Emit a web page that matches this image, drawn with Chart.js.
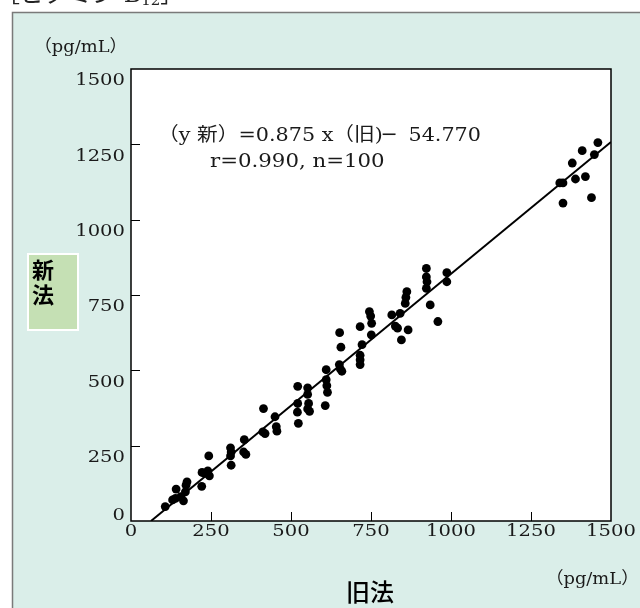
<!DOCTYPE html>
<html><head><meta charset="utf-8">
<script src="https://cdn.jsdelivr.net/npm/chart.js@4"></script>
<style>html,body{margin:0;padding:0;background:#fff}canvas{display:block}</style>
</head><body>
<canvas id="c" width="640" height="608"></canvas>
<script>
// 旧法 (old method) values, pg/mL
const oldMethod = [107,130,139,141,156,164,170,175,172,221,222,231,240,245,243,311,313,311,313,354,352,359,
  414,412,419,450,454,456,521,521,520,523,552,552,555,552,558,610,610,612,614,607,
  652,656,651,654,659,716,722,716,716,716,745,749,752,751,
  815,826,833,841,862,859,857,866,845,923,923,925,923,987,987,935,959,
  1459,1410,1448,1379,1340,1350,1389,1420,1350,1439];
// 新法 (new method) values, pg/mL
const newMethod = [48,70,75,106,81,67,97,130,119,115,161,158,166,150,216,243,229,216,185,270,229,221,
  373,296,290,346,313,298,447,390,361,324,442,420,390,372,364,502,469,449,427,383,
  625,577,519,505,497,645,585,550,535,519,695,680,656,618,
  684,647,640,689,761,742,722,634,601,838,810,794,772,824,794,717,662,
  1256,1229,1216,1188,1122,1122,1135,1143,1055,1073];
const xTickValues = [0,250,500,750,1000,1250,1500];
const yTickValues = [0,250,500,750,1000,1250,1500];
const fitSlope = 0.875;
const fitIntercept = -54.770;
const fitXRange = [-fitIntercept / fitSlope, 1500];

const points = oldMethod.map((x, i) => ({x: x, y: newMethod[i]}));
const fitLine = fitXRange.map(x => ({x: x, y: fitSlope * x + fitIntercept}));

const SERIF = "'DejaVu Serif','Liberation Serif','Noto Sans CJK JP',serif";
const CJK = "'Noto Sans CJK JP','Noto Sans',sans-serif";

// draw horizontally stretched text
function sText(ctx, text, x, y, align, sx) {
  const w = ctx.measureText(text).width * sx;
  let left = x;
  if (align === 'right') left = x - w;
  else if (align === 'center') left = x - w / 2;
  ctx.save();
  ctx.textAlign = 'left';
  ctx.translate(left, y);
  ctx.scale(sx, 1);
  ctx.fillText(text, 0, 0);
  ctx.restore();
}

const decor = {
  id: 'decor',
  beforeDraw(chart) {
    const ctx = chart.ctx, a = chart.chartArea;
    ctx.save();
    ctx.fillStyle = '#ffffff';
    ctx.fillRect(0, 0, chart.width, chart.height);
    // outer panel
    ctx.fillStyle = '#daeee9';
    ctx.fillRect(12, 12, 700, 700);
    ctx.strokeStyle = '#7a7a7a';
    ctx.lineWidth = 1.5;
    ctx.strokeRect(12.5, 12.5, 700, 700);
    // plot area
    ctx.fillStyle = '#ffffff';
    ctx.fillRect(a.left, a.top, a.right - a.left, a.bottom - a.top);
    // header (cut off at top)
    ctx.fillStyle = '#222';
    ctx.font = '24px ' + SERIF;
    ctx.textBaseline = 'alphabetic';
    ctx.textAlign = 'left';
    ctx.fillText('［ビタミン B', -4, 2);
    const w = ctx.measureText('［ビタミン B').width;
    ctx.font = '15px ' + SERIF;
    ctx.fillText('12', -4 + w, 5);
    const w2 = ctx.measureText('12').width;
    ctx.font = '24px ' + SERIF;
    ctx.fillText('］', -4 + w + w2, 2);
    ctx.restore();
  },
  afterDraw(chart) {
    const ctx = chart.ctx, a = chart.chartArea;
    const xs = chart.scales.x, ys = chart.scales.y;
    ctx.save();
    // plot border
    ctx.strokeStyle = '#000';
    ctx.lineWidth = 1.5;
    ctx.strokeRect(a.left, a.top, a.right - a.left, a.bottom - a.top);
    // inward ticks
    ctx.lineWidth = 1;
    ctx.beginPath();
    yTickValues.forEach(v => {
      if (v === 0 || v === 1500) return;
      const p = Math.round(ys.getPixelForValue(v)) + 0.5;
      ctx.moveTo(a.left, p); ctx.lineTo(a.left + 9, p);
    });
    xTickValues.forEach(v => {
      if (v === 0 || v === 1500) return;
      const p = Math.round(xs.getPixelForValue(v)) + 0.5;
      ctx.moveTo(p, a.bottom); ctx.lineTo(p, a.bottom - 9);
    });
    ctx.stroke();
    // tick labels
    ctx.fillStyle = '#1a1a1a';
    ctx.font = '17px ' + SERIF;
    ctx.textBaseline = 'middle';
    yTickValues.forEach(v => {
      const p = ys.getPixelForValue(v);
      sText(ctx, String(v), a.left - 6, v === 0 ? p - 5 : p + 12, 'right', 1.15);
    });
    xTickValues.forEach(v => {
      const p = xs.getPixelForValue(v);
      sText(ctx, String(v), p, a.bottom + 11, 'center', 1.15);
    });
    // units
    sText(ctx, '（pg/mL）', 34, 48, 'left', 1.05);
    sText(ctx, '（pg/mL）', 639, 580, 'right', 1.05);
    // y axis title box
    ctx.fillStyle = '#c5e0b4';
    ctx.fillRect(28, 254, 50, 76);
    ctx.strokeStyle = '#ffffff';
    ctx.lineWidth = 2;
    ctx.strokeRect(28, 254, 50, 76);
    ctx.fillStyle = '#000';
    ctx.font = 'bold 22px ' + CJK;
    ctx.textAlign = 'left';
    ctx.fillText('新', 32, 270);
    ctx.fillText('法', 32, 295);
    // x axis title
    ctx.font = '500 24px ' + CJK;
    ctx.textAlign = 'center';
    ctx.fillText('旧法', 370, 592);
    // equation
    ctx.fillStyle = '#1a1a1a';
    ctx.font = '19px ' + SERIF;
    sText(ctx, '（y 新）=0.875 x（旧)─  54.770', 158, 136, 'left', 1.09);
    sText(ctx, 'r=0.990, n=100', 210, 162, 'left', 1.12);
    ctx.restore();
  }
};

new Chart(document.getElementById('c'), {
  type: 'scatter',
  data: {
    datasets: [
      {data: points, backgroundColor: '#000', borderColor: '#000', pointRadius: 4.4, pointHoverRadius: 4.4, borderWidth: 0},
      {type: 'line', data: fitLine, borderColor: '#000', borderWidth: 2, pointRadius: 0, fill: false, tension: 0}
    ]
  },
  options: {
    responsive: false,
    animation: false,
    devicePixelRatio: 1,
    layout: {padding: {left: 131, right: 29, top: 69, bottom: 87}},
    plugins: {legend: {display: false}, tooltip: {enabled: false}},
    scales: {
      x: {type: 'linear', min: 0, max: 1500, display: false},
      y: {type: 'linear', min: 0, max: 1500, display: false}
    }
  },
  plugins: [decor]
});
</script>
</body></html>
